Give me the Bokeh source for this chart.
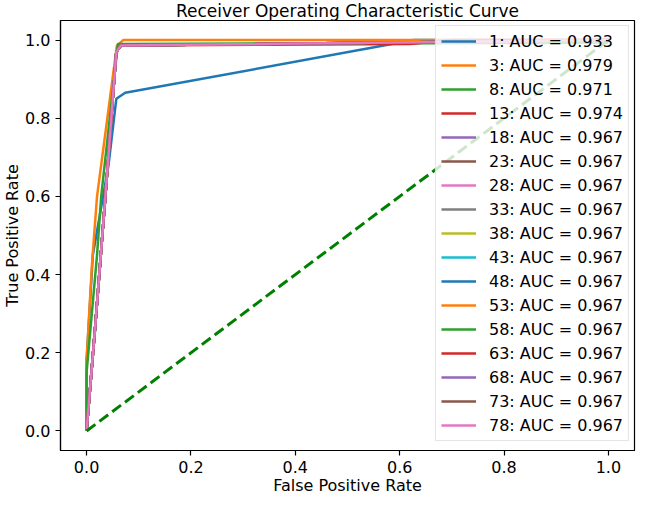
from bokeh.plotting import figure
from bokeh.models import Range1d, FixedTicker, PrintfTickFormatter
from bokeh.embed import file_html
from bokeh.resources import INLINE

# ---- data ----
series_names = ["1", "3", "8", "13", "18", "23", "28", "33", "38", "43",
                "48", "53", "58", "63", "68", "73", "78"]
auc_values = [0.933, 0.979, 0.971, 0.974, 0.967, 0.967, 0.967, 0.967, 0.967,
              0.967, 0.967, 0.967, 0.967, 0.967, 0.967, 0.967, 0.967]
colors = ["#1f77b4", "#ff7f0e", "#2ca02c", "#d62728", "#9467bd", "#8c564b",
          "#e377c2", "#7f7f7f", "#bcbd22", "#17becf", "#1f77b4", "#ff7f0e",
          "#2ca02c", "#d62728", "#9467bd", "#8c564b", "#e377c2"]

fpr_1 = [0.0, 0.0, 0.012, 0.042, 0.057, 0.074, 0.627, 1.0]
tpr_1 = [0.0, 0.18, 0.45, 0.68, 0.85, 0.865, 1.0, 1.0]

fpr_3 = [0.0, 0.0, 0.01, 0.02, 0.058, 0.07, 1.0]
tpr_3 = [0.0, 0.18, 0.42, 0.60, 0.985, 1.0, 1.0]

fpr_8 = [0.0, 0.0, 0.02, 0.028, 0.06, 1.0]
tpr_8 = [0.0, 0.15, 0.45, 0.60, 0.99, 0.993]

fpr_13 = [0.0, 0.017, 0.036, 0.057, 0.066, 0.62, 0.70, 1.0]
tpr_13 = [0.0, 0.275, 0.6, 0.97, 0.986, 0.99, 1.0, 1.0]

fpr_rest = [0.0, 0.017, 0.036, 0.057, 0.066, 1.0]
tpr_rest = [0.0, 0.275, 0.6, 0.97, 0.986, 1.0]

diag_x = [0.0, 1.0]
diag_y = [0.0, 1.0]

ticks = [0.0, 0.2, 0.4, 0.6, 0.8, 1.0]
title_text = "Receiver Operating Characteristic Curve"

curves = [(fpr_1, tpr_1), (fpr_3, tpr_3), (fpr_8, tpr_8), (fpr_13, tpr_13)] + \
         [(fpr_rest, tpr_rest)] * (len(series_names) - 4)

FONT = "DejaVu Sans"

p = figure(width=637, height=499, output_backend="svg", toolbar_location=None,
           x_range=Range1d(-0.05, 1.05), y_range=Range1d(-0.05, 1.05),
           title=title_text,
           min_border_left=54, min_border_right=3, min_border_top=20,
           min_border_bottom=49)

p.title.text_font = FONT
p.title.text_font_size = "17px"
p.title.text_font_style = "normal"
p.title.text_color = "black"
p.title.align = "center"
p.title.vertical_align = "middle"
p.title.standoff = -2

for name, auc, col, (fx, ty) in zip(series_names, auc_values, colors, curves):
    p.line(fx, ty, line_color=col, line_width=2.5,
           legend_label=f"{name}: AUC = {auc:.3f}")

p.line(diag_x, diag_y, line_color="green", line_width=3, line_dash="11 5")

p.xgrid.visible = False
p.ygrid.visible = False
p.outline_line_color = "black"
p.outline_line_width = 1.2

for ax in (p.xaxis[0], p.yaxis[0]):
    ax.ticker = FixedTicker(ticks=ticks)
    ax.formatter = PrintfTickFormatter(format="%.1f")
    ax.minor_tick_line_color = None
    ax.major_tick_in = 0
    ax.major_tick_out = 5
    ax.major_tick_line_color = "black"
    ax.major_tick_line_width = 1.2
    ax.axis_line_color = "black"
    ax.axis_line_width = 1.2
    ax.major_label_text_font = FONT
    ax.major_label_text_font_size = "16px"
    ax.major_label_text_color = "black"
    ax.major_label_standoff = 5
    ax.axis_label_text_font = FONT
    ax.axis_label_text_font_size = "16px"
    ax.axis_label_text_font_style = "normal"
    ax.axis_label_text_color = "black"

p.xaxis.axis_label = "False Positive Rate"
p.yaxis.axis_label = "True Positive Rate"
p.xaxis.axis_label_standoff = 0
p.yaxis.axis_label_standoff = 0

lg = p.legend[0]
lg.location = "top_right"
lg.margin = 5
lg.padding = 5
lg.spacing = 4
lg.glyph_width = 35
lg.glyph_height = 20
lg.label_height = 20
lg.label_standoff = 13
lg.label_text_font = FONT
lg.label_text_font_size = "16px"
lg.label_text_color = "black"
lg.border_line_color = "#cccccc"
lg.border_line_width = 1
lg.background_fill_alpha = 0.8

open("out.html", "w").write(file_html(p, INLINE))
